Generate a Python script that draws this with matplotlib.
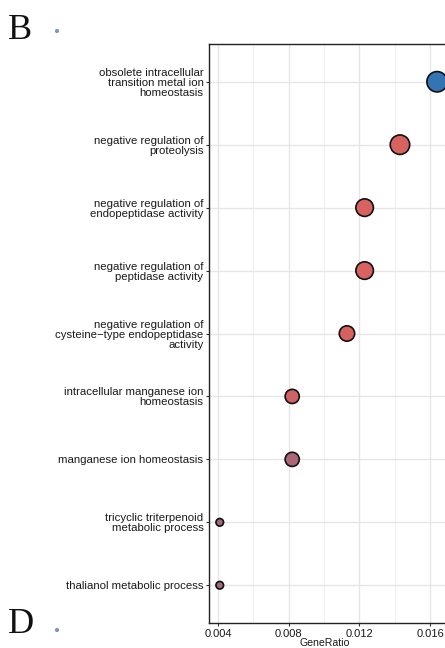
import numpy as np
import matplotlib
matplotlib.use("Agg")
import matplotlib.pyplot as plt
from matplotlib.colors import LinearSegmentedColormap, Normalize
from matplotlib.ticker import MultipleLocator

plt.rcParams['font.family'] = ['Liberation Sans', 'DejaVu Sans']

# GO terms, bottom to top
terms = [
    "thalianol metabolic process",
    "tricyclic triterpenoid\nmetabolic process",
    "manganese ion homeostasis",
    "intracellular manganese ion\nhomeostasis",
    "negative regulation of\ncysteine\u2212type endopeptidase\nactivity",
    "negative regulation of\npeptidase activity",
    "negative regulation of\nendopeptidase activity",
    "negative regulation of\nproteolysis",
    "obsolete intracellular\ntransition metal ion\nhomeostasis",
]
gene_ratio = [0.0041, 0.0041, 0.0082, 0.0082, 0.0113, 0.0123, 0.0123, 0.0143, 0.0164]
count = [2, 2, 6, 6, 7, 9, 9, 11, 12]
p_adjust = [0.0246, 0.0246, 0.0220, 0.0145, 0.0125, 0.0123, 0.0123, 0.0120, 0.0480]

fig = plt.figure(figsize=(4.45, 6.48), dpi=100)
ax = fig.add_axes([209 / 445, 25 / 648, 251 / 445, 579 / 648])

cmap = LinearSegmentedColormap.from_list("padj", ["#d8625f", "#3574b4"])
norm = Normalize(vmin=min(p_adjust), vmax=max(p_adjust))

# area scaling like scale_size
c = np.array(count, dtype=float)
sizes = 30 + (c - c.min()) / (c.max() - c.min()) * (215 - 30)

y = np.arange(len(terms))
ax.scatter(gene_ratio, y, s=sizes, c=cmap(norm(p_adjust)),
           edgecolors="#111111", linewidths=1.2, zorder=3, clip_on=False)

ax.set_xlim(0.003491, 0.017698)
ax.set_ylim(-0.6, len(terms) - 0.4)
ax.set_yticks(y)
ax.set_yticklabels(terms, fontsize=8.2, color="#1a1a1a", linespacing=1.0)
ax.xaxis.set_minor_locator(MultipleLocator(0.002))
ax.set_xticks([0.004, 0.008, 0.012, 0.016])
ax.set_xticklabels(["0.004", "0.008", "0.012", "0.016"], fontsize=8, color="#1a1a1a")

ax.grid(True, which="major", color="#e6e6e6", lw=1.0, zorder=0)
ax.grid(True, which="minor", axis="x", color="#efefef", lw=0.8, zorder=0)
ax.set_axisbelow(True)
ax.tick_params(axis="both", which="major", length=2.5, width=0.8, color="#333333", pad=1.5)
ax.tick_params(axis="x", which="minor", length=0)
for side in ["left", "bottom", "top", "right"]:
    ax.spines[side].set_color("#222222")
    ax.spines[side].set_linewidth(1.0)

ax.set_xlabel("GeneRatio", fontsize=7.6, color="#1a1a1a")
ax.xaxis.set_label_coords((325 - 209) / 251, -0.026)

# panel letters
fig.text(8 / 445, 1 - 39 / 648, "B", fontsize=26, family="Liberation Serif", color="#111111")
fig.text(8 / 445, 1 - 633 / 648, "D", fontsize=26, family="Liberation Serif", color="#111111")
dot_ax = fig.add_axes([0, 0, 1, 1], zorder=-1)
dot_ax.set_xlim(0, 445)
dot_ax.set_ylim(648, 0)
dot_ax.axis("off")
dot_ax.scatter([57, 57], [31, 630], s=9, color="#7f93c4", edgecolors="none")

fig.savefig("out.png", dpi=100)
